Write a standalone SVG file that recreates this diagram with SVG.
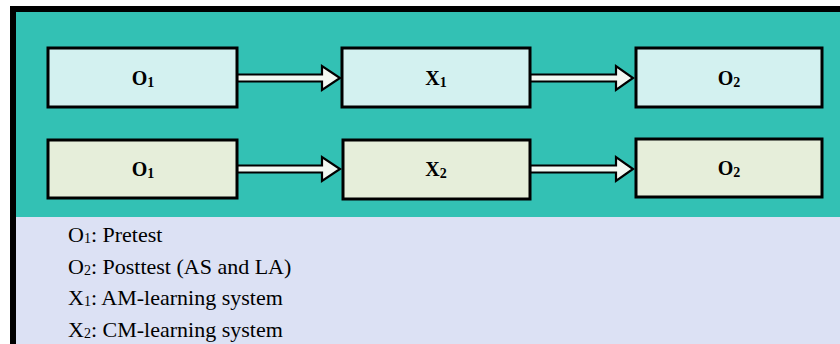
<svg xmlns="http://www.w3.org/2000/svg" width="840" height="344" viewBox="0 0 840 344">
<style>
.box{stroke:#000;stroke-width:3}
.r1{fill:#D3F1F0}
.r2{fill:#E6EEDA}
.lbl{font-family:"Liberation Serif","Times New Roman",serif;font-weight:bold;font-size:20px;fill:#000;text-anchor:middle}
.sub{font-size:14px}
.arrow{fill:#F2F8F2;stroke:#000;stroke-width:2.2;stroke-linejoin:miter}
.leg{font-family:"Liberation Serif","Times New Roman",serif;font-size:22px;fill:#000}
.lsub{font-size:14px}
</style>
<rect x="0" y="0" width="840" height="344" fill="#FFFFFF"/>
<rect x="13" y="9" width="827" height="208" fill="#33C1B4"/>
<rect x="13" y="217" width="827" height="127" fill="#DCE1F4"/>
<line x1="10" y1="9" x2="840" y2="9" stroke="#000" stroke-width="6"/>
<line x1="13" y1="6" x2="13" y2="344" stroke="#000" stroke-width="6"/>
<g id="connectors">
<path class="arrow" d="M237,74.5 H322 V66 L340,78 L322,90 V81.5 H237 Z"/>
<path class="arrow" d="M530,74.5 H616 V66 L633,78 L616,90 V81.5 H530 Z"/>
<path class="arrow" d="M237,165.5 H322 V157 L340,169 L322,181 V172.5 H237 Z"/>
<path class="arrow" d="M530,165.5 H616 V157 L633,169 L616,181 V172.5 H530 Z"/>
</g>
<g id="o1a"><rect class="box r1" x="48" y="48" width="189" height="59"/><text class="lbl" x="143" y="85">O<tspan class="sub" dy="2">1</tspan></text></g>
<g id="x1"><rect class="box r1" x="342" y="48" width="188" height="59"/><text class="lbl" x="436" y="85">X<tspan class="sub" dy="2">1</tspan></text></g>
<g id="o2a"><rect class="box r1" x="636" y="48" width="186" height="59"/><text class="lbl" x="729" y="85">O<tspan class="sub" dy="2">2</tspan></text></g>
<g id="o1b"><rect class="box r2" x="48" y="140" width="189" height="58"/><text class="lbl" x="143" y="176">O<tspan class="sub" dy="2">1</tspan></text></g>
<g id="x2"><rect class="box r2" x="343" y="140" width="187" height="59"/><text class="lbl" x="436" y="176">X<tspan class="sub" dy="2">2</tspan></text></g>
<g id="o2b"><rect class="box r2" x="636" y="139" width="186" height="58"/><text class="lbl" x="729" y="175">O<tspan class="sub" dy="2">2</tspan></text></g>
<g id="legend">
<text class="leg" x="68" y="242">O<tspan class="lsub" dy="1">1</tspan><tspan dy="-1">: Pretest</tspan></text>
<text class="leg" x="68" y="274">O<tspan class="lsub" dy="1">2</tspan><tspan dy="-1">: Posttest (AS and LA)</tspan></text>
<text class="leg" x="68" y="305">X<tspan class="lsub" dy="1">1</tspan><tspan dy="-1">: AM-learning system</tspan></text>
<text class="leg" x="68" y="337">X<tspan class="lsub" dy="1">2</tspan><tspan dy="-1">: CM-learning system</tspan></text>
</g>
</svg>
